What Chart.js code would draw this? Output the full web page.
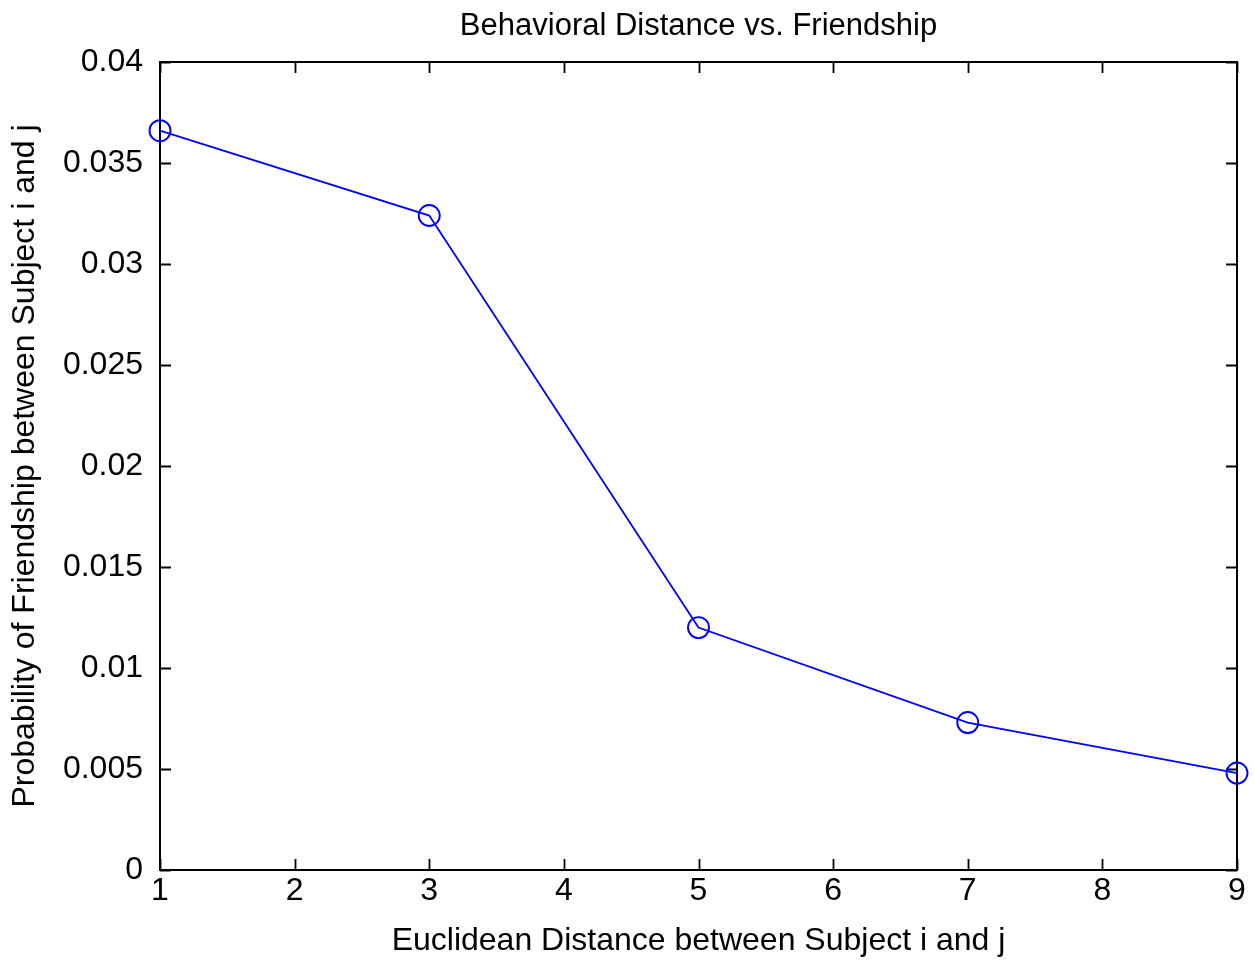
<!DOCTYPE html>
<html>
<head>
<meta charset="utf-8">
<script src="https://cdn.jsdelivr.net/npm/chart.js@4.4.1/dist/chart.umd.min.js"></script>
<style>
  html, body { margin: 0; padding: 0; background: #ffffff; }
  #wrap { width: 1255px; height: 964px; position: relative; }
</style>
</head>
<body>
<div id="wrap"><canvas id="c"></canvas></div>
<script>
// Euclidean distance between subjects and the probability that they are friends
const distances = [1, 3, 5, 7, 9];
const friendshipProb = [0.0366, 0.0324, 0.0120, 0.0073, 0.0048];
const xTicks = [1, 2, 3, 4, 5, 6, 7, 8, 9];
const yTicks = [0, 0.005, 0.01, 0.015, 0.02, 0.025, 0.03, 0.035, 0.04];

const FONT = '"Liberation Sans", Arial, sans-serif';

// Box around the plot area with inward tick marks on all four sides
const boxTicks = {
  id: 'boxTicks',
  beforeDatasetsDraw(chart) {
    const { ctx, chartArea: a, scales } = chart;
    const len = 11;
    ctx.save();
    ctx.strokeStyle = '#000000';
    ctx.lineWidth = 1.8;
    ctx.beginPath();
    xTicks.forEach(v => {
      const x = Math.round(scales.x.getPixelForValue(v)) + 0.5;
      ctx.moveTo(x, a.bottom); ctx.lineTo(x, a.bottom - len);
      ctx.moveTo(x, a.top); ctx.lineTo(x, a.top + len);
    });
    yTicks.forEach(v => {
      const y = Math.round(scales.y.getPixelForValue(v)) + 0.5;
      ctx.moveTo(a.left, y); ctx.lineTo(a.left + len, y);
      ctx.moveTo(a.right, y); ctx.lineTo(a.right - len, y);
    });
    ctx.stroke();
    ctx.lineWidth = 2;
    ctx.strokeRect(a.left, a.top, a.right - a.left, a.bottom - a.top);
    ctx.restore();
  }
};

new Chart(document.getElementById('c'), {
  type: 'scatter',
  data: {
    datasets: [{
      data: distances.map((d, i) => ({ x: d, y: friendshipProb[i] })),
      showLine: true,
      borderColor: '#0000ff',
      borderWidth: 1.8,
      backgroundColor: 'rgba(0,0,0,0)',
      pointBorderColor: '#0000ff',
      pointBackgroundColor: 'rgba(0,0,0,0)',
      pointBorderWidth: 1.9,
      pointRadius: 10.5,
      pointStyle: 'circle',
      clip: false,
      tension: 0
    }]
  },
  options: {
    responsive: true,
    maintainAspectRatio: false,
    animation: false,
    layout: { padding: { left: 0, right: 18, top: 0, bottom: 0 } },
    plugins: {
      legend: { display: false },
      tooltip: { enabled: false },
      title: {
        display: true,
        fullSize: false,
        text: 'Behavioral Distance vs. Friendship',
        color: '#000000',
        font: { family: FONT, size: 31, weight: 'normal', lineHeight: 1.2 },
        padding: { top: 8, bottom: 16.8 }
      }
    },
    scales: {
      x: {
        type: 'linear',
        min: 1, max: 9,
        afterBuildTicks(scale) { scale.ticks = xTicks.map(v => ({ value: v })); },
        afterFit(scale) { scale.height = 94; },
        grid: { display: false, drawTicks: false },
        border: { display: false },
        ticks: {
          color: '#000000',
          padding: 2,
          maxRotation: 0,
          font: { family: FONT, size: 32 },
          callback: v => String(v)
        },
        title: {
          display: true,
          text: 'Euclidean Distance between Subject i and j',
          color: '#000000',
          font: { family: FONT, size: 32, lineHeight: 1.2 },
          padding: { top: 0, bottom: 4 }
        }
      },
      y: {
        type: 'linear',
        min: 0, max: 0.04,
        afterBuildTicks(scale) { scale.ticks = yTicks.map(v => ({ value: v })); },
        afterFit(scale) { scale.width = 160; },
        grid: { display: false, drawTicks: false },
        border: { display: false },
        ticks: {
          color: '#000000',
          padding: 17,
          font: { family: FONT, size: 32 },
          callback: v => String(+Number(v).toFixed(3))
        },
        title: {
          display: true,
          text: 'Probability of Friendship between Subject i and j',
          color: '#000000',
          font: { family: FONT, size: 32, lineHeight: 1.2 },
          padding: { top: 6, bottom: 0 }
        }
      }
    }
  },
  plugins: [boxTicks]
});
</script>
</body>
</html>
